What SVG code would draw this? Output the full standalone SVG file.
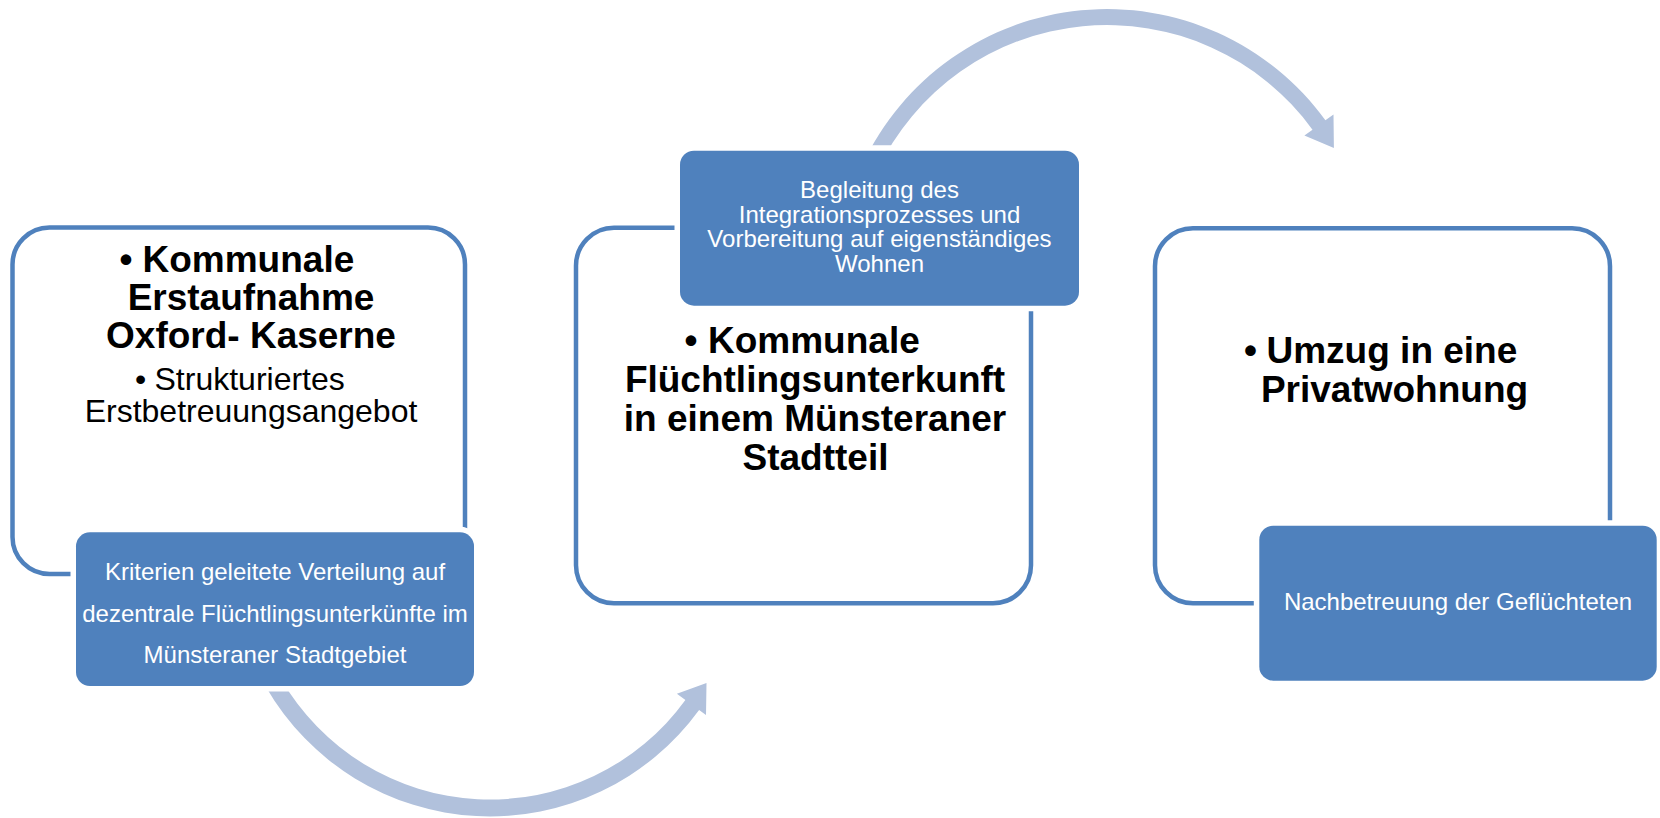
<svg xmlns="http://www.w3.org/2000/svg" width="1660" height="818" viewBox="0 0 1660 818">
<style>
text{font-family:"Liberation Sans",Arial,sans-serif}
.outline{fill:#FFFFFF;stroke:#4F81BD;stroke-width:4.5}
.blue{fill:#4F81BD;stroke:#FFFFFF;stroke-width:11;paint-order:stroke fill}
.arrow{fill:#B1C1DC;stroke:none}
.big{font-size:37px;font-weight:bold;fill:#000000}
.sub{font-size:32px;fill:#000000}
.wt{font-size:24px;fill:#FFFFFF;text-anchor:middle}
.mid{text-anchor:middle}
</style>
<rect width="1660" height="818" fill="#FFFFFF"/>
<g id="connectors">
<path class="arrow" d="M 266.1 687.25 A 258.5 258.5 0 0 0 699.1 709.9 L 706.0 714.9 L 706.5 683 L 676.9 693.8 L 685.4 700.0 A 241.5 241.5 0 0 1 280.9 678.75 Z"/>
<path class="arrow" d="M 862.3 164.9 A 270 270 0 0 1 1325.4 120.3 L 1333.5 114.4 L 1333.9 148 L 1304.4 135.6 L 1312.5 129.7 A 254 254 0 0 0 876.8 171.7 Z"/>
</g>
<g id="node1">
<rect class="outline" x="12.5" y="227.5" width="452.5" height="346.5" rx="37" ry="37"/>
<text class="big"><tspan x="119.5" y="272">•</tspan><tspan x="142.5" y="272">Kommunale</tspan></text>
<text class="big mid" x="251" y="310">Erstaufnahme</text>
<text class="big mid" x="251" y="348">Oxford- Kaserne</text>
<text class="sub"><tspan x="135" y="390">•</tspan><tspan x="154.5" y="390">Strukturiertes</tspan></text>
<text class="sub mid" x="251" y="422">Erstbetreuungsangebot</text>
</g>
<g id="node1-note">
<rect class="blue" x="76" y="532.3" width="398" height="153.7" rx="14" ry="14"/>
<text class="wt" x="275" y="580">Kriterien geleitete Verteilung auf</text>
<text class="wt" x="275" y="622">dezentrale Flüchtlingsunterkünfte im</text>
<text class="wt" x="275" y="663">Münsteraner Stadtgebiet</text>
</g>
<g id="node2">
<rect class="outline" x="576" y="227.7" width="455" height="375.6" rx="38" ry="38"/>
<text class="big"><tspan x="684.5" y="353.3">•</tspan><tspan x="708" y="353.3">Kommunale</tspan></text>
<text class="big mid" x="815" y="391.7">Flüchtlingsunterkunft</text>
<text class="big mid" x="815" y="431">in einem Münsteraner</text>
<text class="big mid" x="815.5" y="470">Stadtteil</text>
</g>
<g id="node2-note">
<rect class="blue" x="680" y="150.7" width="399" height="155" rx="14" ry="14"/>
<text class="wt" x="879.5" y="198.3">Begleitung des</text>
<text class="wt" x="879.5" y="222.7">Integrationsprozesses und</text>
<text class="wt" x="879.5" y="247.3">Vorbereitung auf eigenständiges</text>
<text class="wt" x="879.5" y="271.7">Wohnen</text>
</g>
<g id="node3">
<rect class="outline" x="1155" y="228.2" width="455" height="375" rx="38" ry="38"/>
<text class="big"><tspan x="1244" y="363">•</tspan><tspan x="1266.5" y="363">Umzug in eine</tspan></text>
<text class="big mid" x="1394.5" y="402">Privatwohnung</text>
</g>
<g id="node3-note">
<rect class="blue" x="1259.3" y="525.7" width="397.4" height="155" rx="14" ry="14"/>
<text class="wt" x="1458" y="610">Nachbetreuung der Geflüchteten</text>
</g>
</svg>
